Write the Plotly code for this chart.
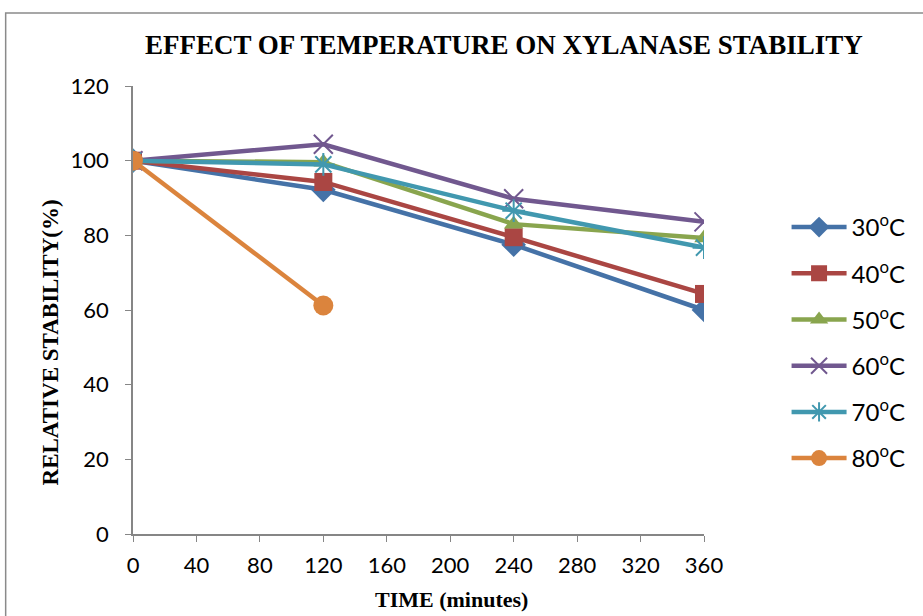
import plotly.graph_objects as go

time_min = [0, 120, 240, 360]
time_80 = [0, 120]
s30 = [100, 92.2, 77.5, 60.0]
s40 = [100, 94.3, 79.5, 64.3]
s50 = [100, 99.6, 83.0, 79.3]
s60 = [100, 104.4, 89.8, 83.6]
s70 = [100, 99.0, 86.6, 76.7]
s80 = [100, 61.2]

names = ["30<sup>o</sup>C", "40<sup>o</sup>C", "50<sup>o</sup>C", "60<sup>o</sup>C", "70<sup>o</sup>C", "80<sup>o</sup>C"]
colors = ["#4572A7", "#AA4643", "#89A54E", "#71588F", "#4198AF", "#DB843D"]
symbols = ["diamond", "square", "triangle-up", "x-thin", "asterisk", "circle"]
sizes = [19, 18, 17, 19, 19, 20]
xs = [time_min, time_min, time_min, time_min, time_min, time_80]
ys = [s30, s40, s50, s60, s70, s80]

fig = go.Figure()
for i in range(6):
    thin = symbols[i] in ("x-thin", "asterisk")
    fig.add_trace(go.Scatter(
        x=xs[i], y=ys[i], name=names[i], mode="lines+markers",
        legendgroup=str(i),
        line=dict(color=colors[i], width=4.5),
        marker=dict(symbol=symbols[i], size=sizes[i], color=colors[i],
                    line=dict(color=colors[i], width=2 if thin else 0)),
    ))

W, H = 923, 616
L, R, T, B = 133, 707, 86, 534

def px(x):
    return (x - L) / (R - L)

def py(y):
    return (B - y) / (B - T)

fig.update_layout(
    width=W, height=H,
    margin=dict(l=L, r=W - R, t=T, b=H - B),
    paper_bgcolor="white", plot_bgcolor="white",
    font=dict(family="Lato, Carlito, sans-serif", size=22, color="black"),
    showlegend=True,
    legend=dict(x=px(790), y=py(205), xanchor="left", yanchor="top",
                font=dict(size=24, family="Lato, sans-serif"),
                tracegroupgap=12, itemwidth=55, bgcolor="rgba(0,0,0,0)"),
    xaxis=dict(range=[0, 360], tickvals=[0, 40, 80, 120, 160, 200, 240, 280, 320, 360],
               showgrid=False, zeroline=False, showline=True, linecolor="#868686", linewidth=1.5,
               ticks="outside", tickcolor="#868686", ticklen=6, tickfont=dict(size=22),
               ticklabelstandoff=5),
    yaxis=dict(range=[0, 120], tickvals=[0, 20, 40, 60, 80, 100, 120],
               showgrid=False, zeroline=False, showline=True, linecolor="#868686", linewidth=1.5,
               ticks="outside", tickcolor="#868686", ticklen=6, tickfont=dict(size=22),
               ticklabelstandoff=12),
    annotations=[
        dict(text="<b>EFFECT OF TEMPERATURE ON XYLANASE STABILITY</b>", xref="paper", yref="paper",
             x=px(506), y=py(45), showarrow=False, xanchor="center", yanchor="middle",
             font=dict(family="Liberation Serif, serif", size=27, color="black")),
        dict(text="<b>TIME (minutes)</b>", xref="paper", yref="paper",
             x=px(453), y=py(599), showarrow=False, xanchor="center", yanchor="middle",
             font=dict(family="Liberation Serif, serif", size=22, color="black")),
        dict(text="<b>RELATIVE STABILITY(%)</b>", xref="paper", yref="paper",
             x=px(50), y=py(342), showarrow=False, xanchor="center", yanchor="middle", textangle=-90,
             font=dict(family="Liberation Serif, serif", size=23, color="black")),
    ],
    shapes=[
        dict(type="rect", xref="paper", yref="paper", x0=px(5), y0=py(640), x1=px(940), y1=py(13),
             line=dict(color="#8a8a8a", width=1.5), fillcolor="rgba(0,0,0,0)", layer="below"),
    ],
)

fig.write_html("out.html")
